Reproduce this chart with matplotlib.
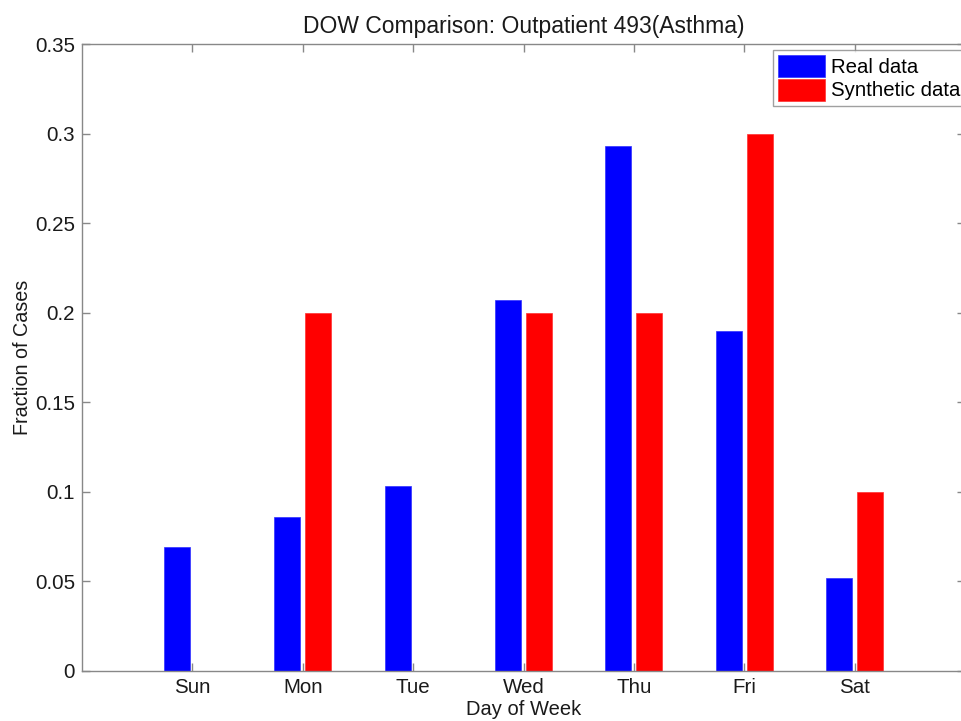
import matplotlib
matplotlib.use("Agg")
import matplotlib.pyplot as plt
import numpy as np

plt.rcParams['font.family'] = ['Liberation Sans', 'DejaVu Sans']

days = ["Sun", "Mon", "Tue", "Wed", "Thu", "Fri", "Sat"]
real_data = [4/58, 5/58, 6/58, 12/58, 17/58, 11/58, 3/58]
synthetic_data = [0.0, 0.2, 0.0, 0.2, 0.2, 0.3, 0.1]

fig = plt.figure(figsize=(9.61, 7.21), dpi=100)
ax = fig.add_axes([82/961, 1 - 671/721, (965 - 82)/961, (671 - 44)/721])

x = np.arange(1, len(days) + 1)
w = 0.235
off = 0.14
ax.bar(x - off, real_data, w, color='#0000ff', edgecolor='#3030ff', linewidth=0.5, label='Real data')
ax.bar(x + off, synthetic_data, w, color='#ff0000', edgecolor='#ff3030', linewidth=0.5, label='Synthetic data')

ax.set_xlim(0, 8)
ax.set_ylim(0, 0.35)
ax.set_xticks(x)
ax.set_xticklabels(days)
ax.set_yticks([0, 0.05, 0.1, 0.15, 0.2, 0.25, 0.3, 0.35])
ax.set_yticklabels(['0', '0.05', '0.1', '0.15', '0.2', '0.25', '0.3', '0.35'])
ax.tick_params(direction='in', top=True, right=True, length=6, width=1,
               color='#888888', labelsize=14.8, labelcolor='#1a1a1a', pad=5)
for s in ax.spines.values():
    s.set_color('#888888')
    s.set_linewidth(1)

ax.set_xlabel('Day of Week', fontsize=14.5, labelpad=2, color='#1a1a1a')
ax.set_ylabel('Fraction of Cases', fontsize=14.2, labelpad=2, color='#1a1a1a')
ax.set_title('DOW Comparison: Outpatient 493(Asthma)', fontsize=16.5, pad=8, color='#1a1a1a')

leg = ax.legend(loc='upper right', bbox_to_anchor=(1.0 + 7/883, 1.0), fontsize=14.7, frameon=True,
                fancybox=False, borderpad=0.25, handlelength=2.3, handleheight=1.3,
                handletextpad=0.3, labelspacing=0.05, borderaxespad=0.3)
leg.get_frame().set_edgecolor('#888888')
leg.get_frame().set_linewidth(1)

fig.savefig('out.png', dpi=100)
